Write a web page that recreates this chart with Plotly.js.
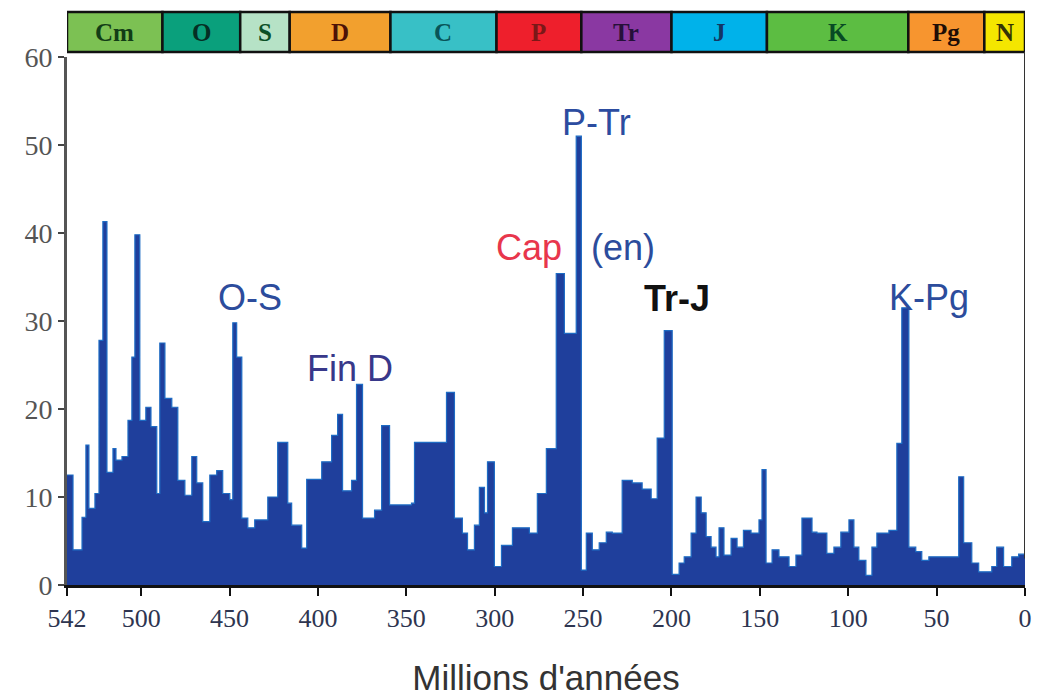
<!DOCTYPE html>
<html>
<head>
<meta charset="utf-8">
<script src="https://cdn.plot.ly/plotly-3.0.1.min.js"></script>
<style>html,body{margin:0;padding:0;background:#fff;}#chart{width:1040px;height:698px;}</style>
</head>
<body>
<div id="chart"></div>
<script>
// Start age (Ma) of each step and extinction intensity (%) holding until the next step
const ages = [542, 538.6, 533.5, 531.3, 529.6, 526.2, 523.9, 521.7, 519.4, 516.0, 514.3, 510.9, 507.5, 505.3, 503.6, 500.8, 497.4, 494.5, 491.2, 489.5, 486.6, 482.7, 479.3, 475.3, 471.4, 468.6, 465.2, 461.2, 457.3, 453.9, 449.9, 448.2, 446.0, 443.1, 439.7, 435.8, 428.4, 422.8, 417.1, 414.9, 409.2, 406.4, 397.9, 392.3, 388.9, 386.1, 381.0, 378.2, 374.8, 368.0, 364.0, 359.5, 347.1, 345.4, 327.3, 322.8, 318.3, 315.4, 311.5, 308.7, 305.8, 304.1, 300.2, 296.2, 290.0, 280.4, 275.9, 270.8, 265.2, 260.6, 253.9, 251.0, 248.2, 244.8, 240.9, 236.9, 233.5, 227.9, 222.2, 216.6, 211.5, 208.1, 204.1, 199.6, 195.7, 192.8, 188.9, 186.1, 183.2, 180.4, 177.6, 174.8, 173.1, 170.3, 166.3, 162.9, 159.3, 155.0, 150.5, 148.8, 146.5, 143.1, 139.2, 133.5, 129.6, 126.2, 120.5, 117.7, 112.1, 108.1, 104.2, 99.6, 96.8, 94.0, 90.0, 86.6, 83.8, 77.0, 72.5, 69.7, 65.7, 61.8, 58.4, 54.4, 37.5, 34.7, 30.1, 26.2, 18.8, 16.0, 12.1, 7.5, 3.6, 0];
const intensity = [12.5, 4.0, 7.7, 15.9, 8.7, 10.4, 27.8, 41.3, 12.8, 15.5, 14.2, 14.6, 18.7, 25.9, 39.8, 18.7, 20.2, 18.0, 10.4, 27.5, 21.2, 20.2, 11.9, 10.2, 14.6, 11.6, 7.2, 12.5, 13.0, 10.4, 9.7, 29.8, 25.9, 7.6, 6.5, 7.4, 10.0, 16.2, 9.3, 6.8, 4.2, 12.0, 14.0, 17.0, 19.4, 10.7, 11.9, 22.8, 7.6, 8.5, 18.1, 9.1, 9.3, 16.2, 21.9, 7.6, 5.9, 4.0, 6.8, 11.1, 8.2, 14.0, 2.1, 4.5, 6.5, 5.9, 10.4, 15.5, 35.4, 28.6, 51.0, 1.7, 5.9, 4.0, 4.8, 6.0, 5.9, 11.9, 11.6, 10.9, 9.8, 16.7, 28.9, 1.2, 2.5, 3.2, 5.9, 10.0, 8.2, 5.5, 4.3, 3.2, 6.5, 3.4, 5.3, 4.3, 6.2, 5.9, 7.4, 13.1, 2.5, 4.0, 3.2, 2.1, 3.4, 7.6, 6.0, 5.9, 3.6, 4.3, 6.0, 7.4, 4.3, 2.8, 1.1, 4.3, 5.9, 6.2, 16.1, 31.5, 4.3, 3.8, 2.8, 3.2, 12.3, 4.8, 2.5, 1.5, 2.1, 4.3, 2.1, 3.2, 3.5, 3.5];

// Geological periods
const periodNames = ["Cm", "O", "S", "D", "C", "P", "Tr", "J", "K", "Pg", "N"];
const periodStart = [542, 488, 444, 416, 359, 299, 251, 200, 146, 66, 23];
const periodEnd   = [488, 444, 416, 359, 299, 251, 200, 146, 66, 23, 0];
const periodColors = ["#7cc153", "#0aa07c", "#b6e2c6", "#f2a02e", "#38c0c6", "#ee1f2c", "#8a38a2", "#00b2ea", "#5cbd42", "#f7952f", "#f4e600"];
const periodTextColors = ["#123d16", "#052f24", "#0a5026", "#4e1206", "#085458", "#7a1818", "#26103a", "#123664", "#084a24", "#200e06", "#333306"];

// Tick labels
const xTickVals = [542, 500, 450, 400, 350, 300, 250, 200, 150, 100, 50, 0];
const xTickText = ["542", "500", "450", "400", "350", "300", "250", "200", "150", "100", "50", "0"];
const yTickVals = [0, 10, 20, 30, 40, 50, 60];

const trace = {
  x: ages, y: intensity, type: "scatter", mode: "lines",
  line: {shape: "hv", color: "#1e6cc4", width: 1.2},
  fill: "tozeroy", fillcolor: "#1f3f9c",
  hoverinfo: "skip", showlegend: false
};

const shapes = [];
const annotations = [];
const bandBottom = 1.0095, bandTop = 1.085;
for (let i = 0; i < periodNames.length; i++) {
  shapes.push({type: "rect", xref: "x", yref: "paper",
    x0: periodStart[i], x1: periodEnd[i], y0: bandBottom, y1: bandTop,
    fillcolor: periodColors[i], line: {color: "#111", width: 2.5}});
  annotations.push({xref: "x", yref: "paper", x: (periodStart[i] + periodEnd[i]) / 2,
    y: (bandBottom + bandTop) / 2, text: "<b>" + periodNames[i] + "</b>", showarrow: false,
    font: {family: "Liberation Serif, Times New Roman, serif", size: 25, color: periodTextColors[i]},
    xanchor: "center", yanchor: "middle"});
}
// right border line
shapes.push({type: "line", xref: "x", yref: "paper", x0: 0, x1: 0, y0: 0.05, y1: 1.01,
  line: {color: "#333", width: 2}});

const labelFont = "Liberation Sans, Arial, sans-serif";
const events = [
  {text: "O-S", x: 438.6, y: 32.7, color: "#2c4c9c"},
  {text: "Fin D", x: 382, y: 24.6, color: "#38388a"},
  {text: "Cap", x: 280.4, y: 38.4, color: "#e8364c"},
  {text: "(en)", x: 227.5, y: 38.4, color: "#2c4c9c"},
  {text: "P-Tr", x: 242.6, y: 52.6, color: "#2c4ca0"},
  {text: "<b>Tr-J</b>", x: 197, y: 32.6, color: "#111111"},
  {text: "K-Pg", x: 54.4, y: 32.7, color: "#2c4c9c"}
];
events.forEach(e => annotations.push({xref: "x", yref: "y", x: e.x, y: e.y, text: e.text,
  showarrow: false, xanchor: "center", yanchor: "middle",
  font: {family: labelFont, size: 36, color: e.color}}));

const layout = {
  width: 1040, height: 698,
  margin: {l: 67, r: 15, t: 57, b: 113},
  paper_bgcolor: "#ffffff", plot_bgcolor: "#ffffff",
  xaxis: {
    range: [542, 0], tickvals: xTickVals, ticktext: xTickText,
    ticks: "outside", ticklen: 8, tickwidth: 2, tickcolor: "#111",
    showline: true, linecolor: "#111", linewidth: 3, showgrid: false, zeroline: false,
    tickfont: {family: "Liberation Serif, Times New Roman, serif", size: 26, color: "#2e3550"},
    title: {text: "Millions d'années", standoff: 34,
      font: {family: labelFont, size: 35, color: "#333"}}
  },
  yaxis: {
    range: [0, 60], tickvals: yTickVals,
    ticks: "outside", ticklen: 6, tickwidth: 2, tickcolor: "#444",
    showline: true, linecolor: "#555", linewidth: 3, showgrid: false, zeroline: false,
    tickfont: {family: "Liberation Serif, Times New Roman, serif", size: 28, color: "#555"}
  },
  shapes: shapes,
  annotations: annotations
};

Plotly.newPlot("chart", [trace], layout, {displayModeBar: false, staticPlot: true});
</script>
</body>
</html>
